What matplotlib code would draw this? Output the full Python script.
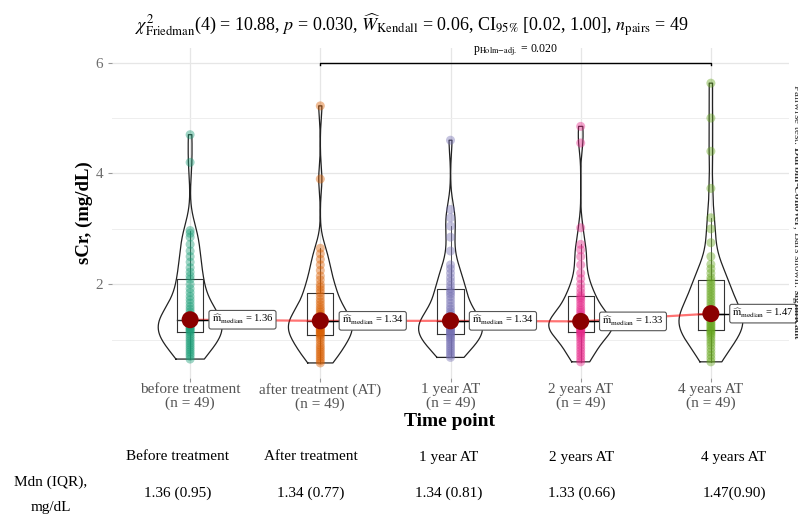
import numpy as np
import matplotlib
matplotlib.use("Agg")
import matplotlib.pyplot as plt
from matplotlib.ticker import MultipleLocator

plt.rcParams["font.family"] = ["Liberation Serif", "DejaVu Serif"]
plt.rcParams["mathtext.fontset"] = "stix"

# ---- data -------------------------------------------------------------
groups = ["before treatment", "after treatment (AT)", "1 year AT",
          "2 years AT", "4 years AT"]
n_per_group = [49, 49, 49, 49, 49]
palette = ["#1B9E77", "#D95F02", "#7570B3", "#E7298A", "#66A61E"]

scr_before = [0.65, 0.70, 0.74, 0.78, 0.82, 0.86, 0.90, 0.94, 0.98, 1.02, 1.06, 1.10,
              1.14,
              1.16, 1.18, 1.20, 1.22, 1.24, 1.26, 1.28, 1.30, 1.32, 1.33, 1.35,
              1.36,
              1.40, 1.45, 1.50, 1.55, 1.60, 1.66, 1.72, 1.78, 1.85, 1.92, 2.00,
              2.09,
              2.15, 2.22, 2.30, 2.40, 2.50, 2.60, 2.72, 2.85, 2.92, 2.97, 4.20, 4.70]
scr_after = [0.58, 0.62, 0.66, 0.70, 0.74, 0.78, 0.82, 0.86, 0.90, 0.95, 1.00, 1.04,
             1.08,
             1.10, 1.12, 1.14, 1.16, 1.18, 1.20, 1.22, 1.25, 1.28, 1.30, 1.32,
             1.34,
             1.37, 1.40, 1.43, 1.46, 1.50, 1.54, 1.58, 1.63, 1.68, 1.73, 1.79,
             1.85,
             1.90, 1.95, 2.00, 2.08, 2.15, 2.25, 2.35, 2.45, 2.55, 2.65, 3.90, 5.22]
scr_1y = [0.68, 0.72, 0.76, 0.80, 0.84, 0.88, 0.92, 0.96, 1.00, 1.03, 1.06, 1.09,
          1.11,
          1.13, 1.15, 1.17, 1.19, 1.21, 1.23, 1.25, 1.27, 1.29, 1.31, 1.33,
          1.34,
          1.38, 1.42, 1.46, 1.50, 1.55, 1.60, 1.66, 1.72, 1.78, 1.83, 1.87,
          1.92,
          1.98, 2.05, 2.12, 2.20, 2.28, 2.35, 2.60, 2.85, 3.05, 3.20, 3.35, 4.60]
scr_2y = [0.60, 0.65, 0.70, 0.75, 0.80, 0.85, 0.90, 0.95, 1.00, 1.04, 1.08, 1.11,
          1.13,
          1.15, 1.17, 1.19, 1.21, 1.23, 1.25, 1.27, 1.29, 1.30, 1.31, 1.32,
          1.33,
          1.36, 1.39, 1.42, 1.45, 1.49, 1.53, 1.57, 1.62, 1.67, 1.72, 1.76,
          1.79,
          1.85, 1.92, 2.00, 2.10, 2.20, 2.35, 2.50, 2.62, 2.72, 3.02, 4.55, 4.85]
scr_4y = [0.60, 0.66, 0.72, 0.78, 0.84, 0.90, 0.95, 1.00, 1.05, 1.09, 1.12, 1.15,
          1.17,
          1.20, 1.23, 1.26, 1.29, 1.32, 1.35, 1.38, 1.40, 1.42, 1.44, 1.46,
          1.47,
          1.52, 1.57, 1.62, 1.67, 1.72, 1.77, 1.82, 1.87, 1.92, 1.97, 2.02,
          2.07,
          2.12, 2.20, 2.28, 2.36, 2.50, 2.75, 3.00, 3.20, 3.73, 4.40, 5.00, 5.63]
series = [scr_before, scr_after, scr_1y, scr_2y, scr_4y]

median_labels = [1.36, 1.34, 1.34, 1.33, 1.47]

table_header = ["Before treatment", "After treatment", "1 year AT",
                "2 years AT", "4 years AT"]
table_values = ["1.36 (0.95)", "1.34 (0.77)", "1.34 (0.81)", "1.33 (0.66)",
                "1.47(0.90)"]

pair_test = (2, 5)
pair_p_label = r"p$_{\mathrm{Holm\!-\!adj.}}$ = 0.020"

# ---- figure -----------------------------------------------------------
W, H = 798, 515
fig = plt.figure(figsize=(W / 100, H / 100), dpi=100)


def fx(px):
    return px / W


def fy(py):
    return 1 - py / H


ax_l, ax_r, ax_t, ax_b = 112, 789, 47.7, 377.9
ax = fig.add_axes([fx(ax_l), fy(ax_b), fx(ax_r - ax_l), (ax_b - ax_t) / H])
ax.set_xlim(0.4, 5.6)
ax.set_ylim(0.31, 6.27)

for s in ax.spines.values():
    s.set_visible(False)
ax.yaxis.set_major_locator(MultipleLocator(2))
ax.yaxis.set_minor_locator(MultipleLocator(1))
ax.grid(which="major", color="#e6e6e6", lw=0.9, zorder=0)
ax.grid(which="minor", axis="y", color="#eeeeee", lw=0.7, zorder=0)
ax.tick_params(axis="y", which="minor", length=0)
ax.tick_params(axis="both", which="major", length=3, color="#999999",
               labelcolor="#6e6e6e", labelsize=11)

xs = np.arange(1, len(groups) + 1)
ax.set_xticks(xs)
ax.set_xticklabels([f"{g}\n(n = {n})" for g, n in zip(groups, n_per_group)],
                   linespacing=1.0, color="#555555")
ax.tick_params(axis="x", pad=1)


def kde(vals, grid):
    v = np.asarray(vals)
    n = len(v)
    q75, q25 = np.percentile(v, [75, 25])
    bw = 0.9 * min(v.std(ddof=1), (q75 - q25) / 1.34) * n ** (-0.2)
    z = (grid[:, None] - v[None, :]) / bw
    return np.exp(-0.5 * z ** 2).sum(axis=1) / (n * bw * np.sqrt(2 * np.pi))


medians = []
for i, (x, vals, col) in enumerate(zip(xs, series, palette)):
    v = np.asarray(vals)
    # violin outline (trimmed to data range, scaled to a common width)
    g = np.linspace(v.min(), v.max(), 300)
    d = kde(v, g)
    half = 0.245 * d / d.max()
    outline_x = np.concatenate([x - half, (x + half)[::-1], [x - half[0]]])
    outline_y = np.concatenate([g, g[::-1], [g[0]]])
    ax.plot(outline_x, outline_y, color="#222222", lw=0.9, zorder=3)

    # box + whiskers
    q1, med, q3 = np.percentile(v, [25, 50, 75])
    medians.append(med)
    iqr = q3 - q1
    lo = v[v >= q1 - 1.5 * iqr].min()
    hi = v[v <= q3 + 1.5 * iqr].max()
    bw_ = 0.1
    ax.plot([x - bw_, x + bw_, x + bw_, x - bw_, x - bw_],
            [q1, q1, q3, q3, q1], color="#333333", lw=0.8, zorder=4)
    ax.plot([x - bw_, x + bw_], [med, med], color="#333333", lw=1.0, zorder=4)
    ax.plot([x, x], [q3, hi], color="#333333", lw=0.6, zorder=4)
    ax.plot([x, x], [lo, q1], color="#333333", lw=0.6, zorder=4)

    # individual observations
    ax.scatter(np.full(len(v), x), v, s=42, color=col, alpha=0.42,
               edgecolors="none", zorder=5)

# line joining medians
ax.plot(xs, medians, color="red", alpha=0.55, lw=1.6, zorder=6)
ax.scatter(xs, medians, s=150, color="#8B0000", zorder=8, edgecolors="none")

# median labels
for x, m, lab in zip(xs, medians, median_labels):
    ax.plot([x, x + 0.15], [m, m], color="black", lw=1.0, zorder=7)
    ax.text(x + 0.165, m, r"$\widehat{\mathrm{m}}_{\mathrm{median}}$ = " + f"{lab:.2f}",
            fontsize=7.6, ha="left", va="center", zorder=9,
            bbox=dict(boxstyle="round,pad=0.25,rounding_size=0.2",
                      fc="white", ec="#555555", lw=0.8))

# pairwise comparison bracket
xa, xb = pair_test
yb = 6.0
ax.plot([xa, xa, xb, xb], [yb - 0.04, yb, yb, yb - 0.04], color="black",
        lw=1.0, zorder=6, clip_on=False)
ax.text((xa + xb) / 2, yb + 0.08, pair_p_label, ha="center", va="bottom",
        fontsize=8.5, clip_on=False)

ax.set_ylabel("sCr, (mg/dL)", fontsize=13.5, fontweight="bold", labelpad=2)

# title with test statistics
fig.text(fx(412), fy(25),
         r"$\chi^2_{\mathrm{Friedman}}$(4) = 10.88, $p$ = 0.030, "
         r"$\widehat{W}_{\mathrm{Kendall}}$ = 0.06, CI$_{95\%}$ [0.02, 1.00], "
         r"$n_{\mathrm{pairs}}$ = 49",
         fontsize=13, ha="center", va="center")

# x axis title
fig.text(fx(450), fy(421), "Time point", fontsize=14, fontweight="bold",
         ha="center", va="center")

# caption on the right edge
fig.text(fx(796), fy(212),
         r"Pairwise test: $\mathbf{Durbin}$-$\mathbf{Conover}$, Bars shown: "
         r"$\mathbf{significant}$",
         fontsize=8, rotation=270, ha="center", va="center", color="#333333")

# summary table
col_x = [178, 311, 449, 582, 734]
for cx, h, v in zip(col_x, table_header, table_values):
    fig.text(fx(cx), fy(457), h, fontsize=11, ha="center", va="center")
    fig.text(fx(cx), fy(493), v, fontsize=11, ha="center", va="center")
fig.text(fx(51), fy(482), "Mdn (IQR),", fontsize=11, ha="center", va="center")
fig.text(fx(51), fy(507), "mg/dL", fontsize=11, ha="center", va="center")

fig.savefig("out.png", dpi=100)
